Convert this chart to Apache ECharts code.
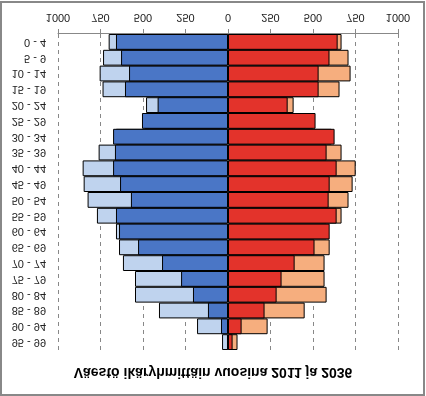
<!DOCTYPE html>
<html><head><meta charset="utf-8">
<script src="https://cdn.jsdelivr.net/npm/echarts@6/dist/echarts.min.js"></script>
<style>
html,body{margin:0;padding:0;background:#fff;}
#c{width:426px;height:396px;transform:scaleY(-1);}
</style></head>
<body><div id="c"></div>
<script>
const categories = ["0 - 4","5 - 9","10 - 14","15 - 19","20 - 24","25 - 29","30 - 34","35 - 39","40 - 44","45 - 49","50 - 54","55 - 59","60 - 64","65 - 69","70 - 74","75 - 79","80 - 84","85 - 89","90 - 94","95 - 99"];
const men2011   = [659,629,582,606,414,506,676,665,676,635,571,659,641,529,388,276,206,118,41,6];
const men2036   = [702,735,755,738,482,490,660,761,855,849,826,771,659,641,618,547,547,406,182,35];
const women2011 = [645,597,533,533,351,515,627,580,639,598,592,639,598,509,392,315,286,215,80,27];
const women2036 = [668,709,721,656,386,500,610,668,751,733,709,668,580,598,568,568,580,451,233,56];
const xTicks = {min:-1000, max:1000, interval:250};
const titleText = "Väestö ikäryhmittäin vuosina 2011 ja 2036";

const neg = a => a.map(v => -v);
const chart = echarts.init(document.getElementById('c'));
const border = {borderColor:'#000', borderWidth:1};
chart.setOption({
  animation:false,
  title:{text:titleText, left:'center', top:12, textStyle:{fontFamily:'Liberation Sans', fontSize:14, fontWeight:'bold', color:'#000'}},
  grid:{left:58, right:28, top:46, bottom:34},
  xAxis:{type:'value', min:xTicks.min, max:xTicks.max, interval:xTicks.interval,
    axisLine:{show:true, lineStyle:{color:'#888'}},
    axisTick:{show:true, length:5, lineStyle:{color:'#888'}},
    axisLabel:{margin:11, fontSize:11, fontFamily:'Liberation Sans', color:'#222', formatter:v=>Math.abs(v)},
    splitLine:{show:true, lineStyle:{color:'#888', type:[4,4]}}},
  yAxis:{type:'category', data:categories,
    axisLine:{show:false}, axisTick:{show:false},
    axisLabel:{margin:12, fontSize:11, fontFamily:'Liberation Sans', color:'#222'}},
  graphic:[{type:'rect', shape:{x:1,y:1,width:423,height:393}, style:{fill:'none', stroke:'#888', lineWidth:2}, z:100}],
  series:[
    {name:'Miehet 2036', type:'bar', data:neg(men2036), barGap:'-100%', barCategoryGap:'0%', itemStyle:Object.assign({color:'#BFD3EE'},border)},
    {name:'Naiset 2036', type:'bar', data:women2036, itemStyle:Object.assign({color:'#F6AE7E'},border)},
    {name:'Miehet 2011', type:'bar', data:neg(men2011), itemStyle:Object.assign({color:'#4A76C6'},border)},
    {name:'Naiset 2011', type:'bar', data:women2011, itemStyle:Object.assign({color:'#E3332B'},border)}
  ]
});
</script></body></html>
